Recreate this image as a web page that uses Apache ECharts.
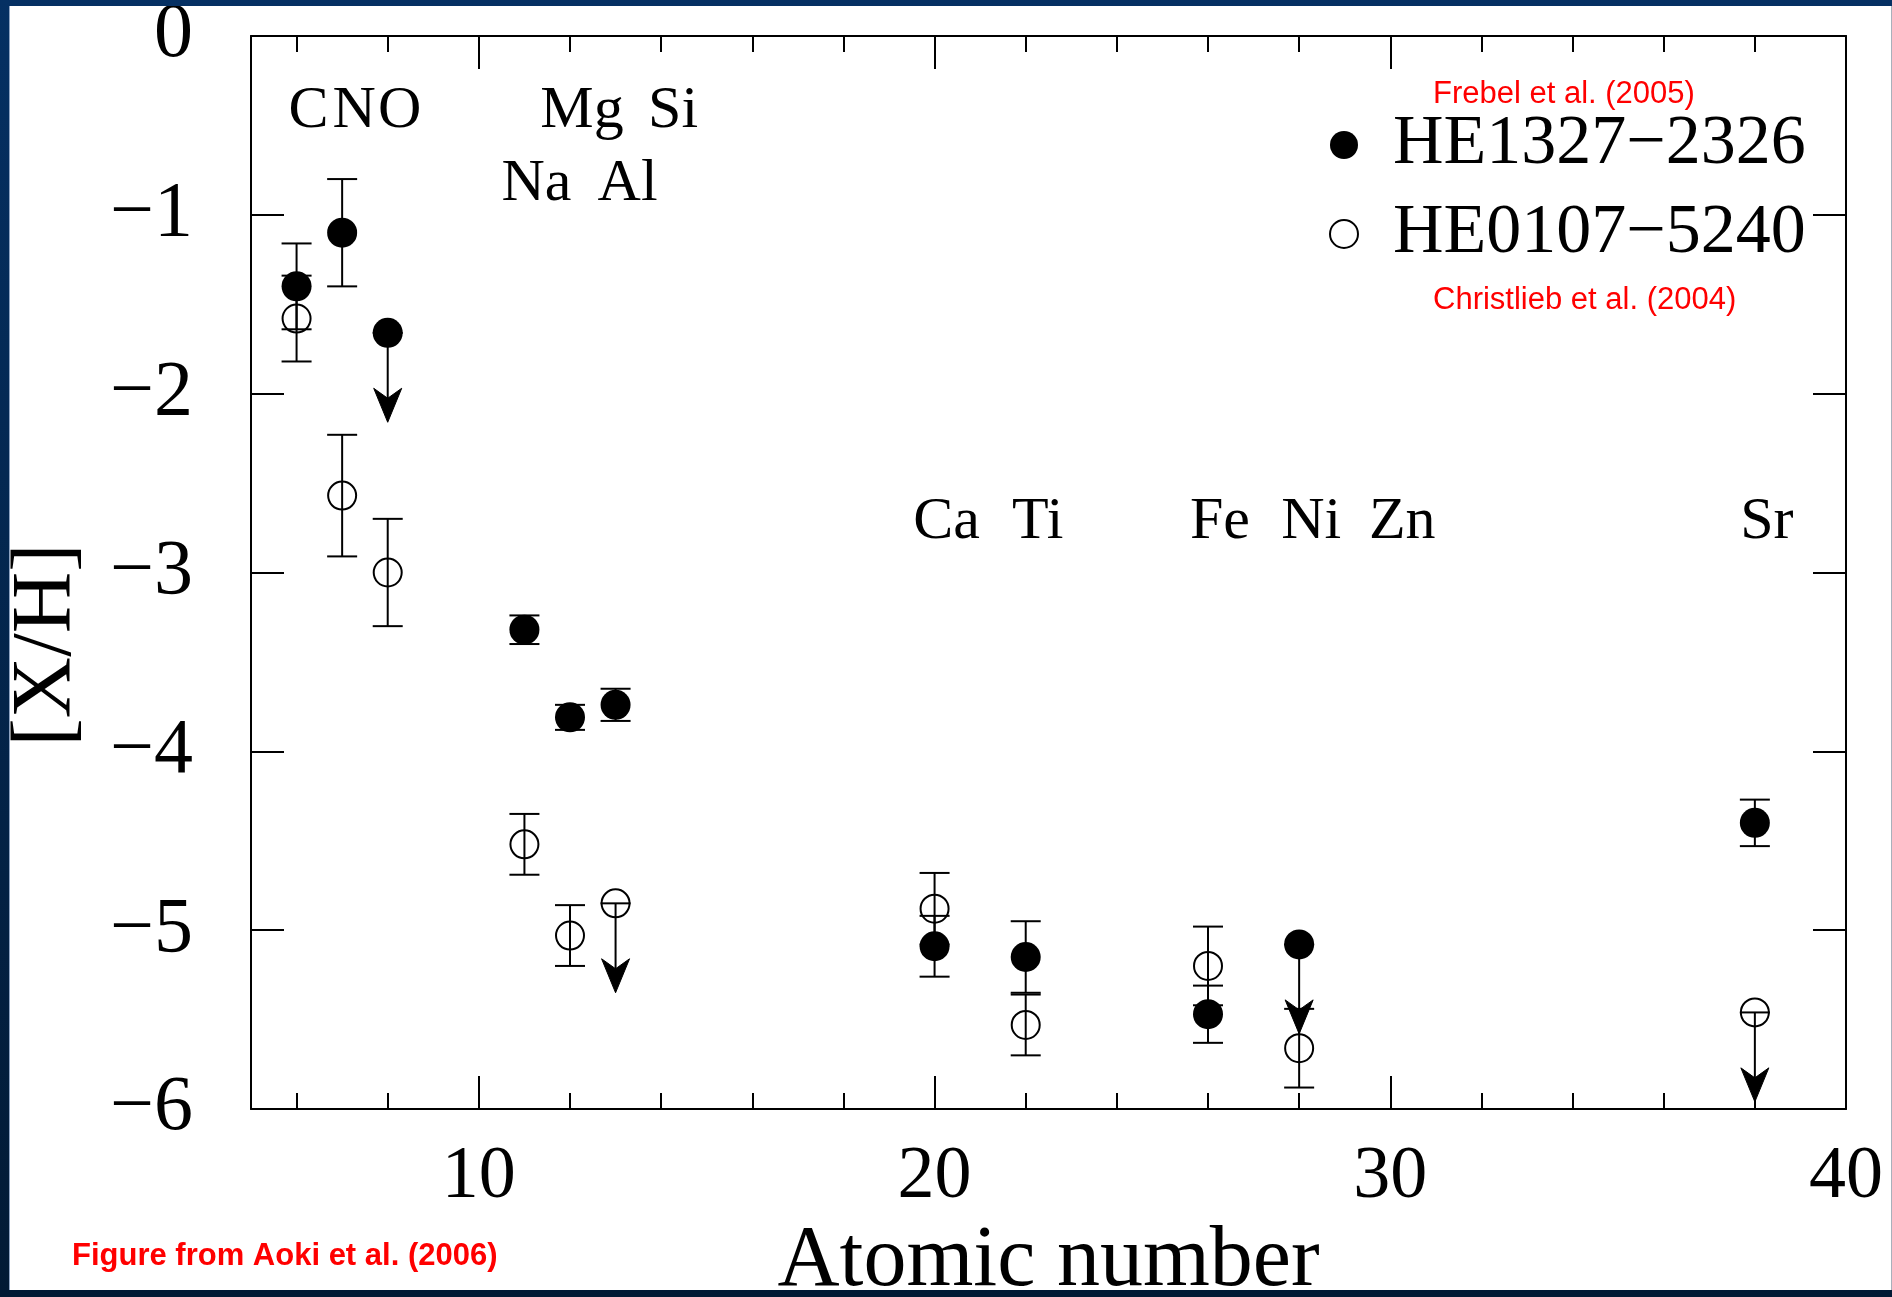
<!DOCTYPE html>
<html>
<head>
<meta charset="utf-8">
<title>[X/H] vs atomic number</title>
<script src="https://cdn.jsdelivr.net/npm/echarts@6/dist/echarts.min.js"></script>
<style>
  html, body { margin: 0; padding: 0; background: #ffffff; }
  #chart { width: 1892px; height: 1297px; }
</style>
</head>
<body>
<div id="chart"></div>
<script>
// Elements measured in both stars
const elements = ['C', 'N', 'O', 'Na', 'Mg', 'Al', 'Ca', 'Ti', 'Fe', 'Ni', 'Sr'];
const atomicNumbers = [6, 7, 8, 11, 12, 13, 20, 22, 26, 28, 38];

// HE1327-2326 (Frebel et al. 2005): [X/H], 1-sigma errors, upper-limit flags
const he1327Values = [-1.40, -1.10, -1.66, -3.32, -3.81, -3.74, -5.09, -5.15, -5.47, -5.08, -4.40];
const he1327Errors = [0.24, 0.30, 0, 0.08, 0.07, 0.09, 0.17, 0.20, 0.16, 0, 0.13];
const he1327Limits = [0, 0, 1, 0, 0, 0, 0, 0, 0, 1, 0];

// HE0107-5240 (Christlieb et al. 2004)
const he0107Values = [-1.58, -2.57, -3.00, -4.52, -5.03, -4.85, -4.88, -5.53, -5.20, -5.66, -5.46];
const he0107Errors = [0.24, 0.34, 0.30, 0.17, 0.17, 0, 0.20, 0.17, 0.22, 0.22, 0];
const he0107Limits = [0, 0, 0, 0, 0, 1, 0, 0, 0, 0, 1];

// Element names written across the top of the plot
const labelNames = ['C', 'N', 'O', 'Mg', 'Si', 'Na', 'Al', 'Ca', 'Ti', 'Fe', 'Ni', 'Zn', 'Sr'];
const labelAtomicNumbers = [6, 7, 8, 12, 14, 11, 13, 20, 22, 26, 28, 30, 38];

// Axis ticks
const xLabelTicks = [10, 20, 30, 40];
const xMajorTicks = [10, 20, 30];
const xMinorTicks = [6, 8, 12, 14, 16, 18, 22, 24, 26, 28, 32, 34, 36, 38];
const yTicks = [0, -1, -2, -3, -4, -5, -6];

const seriesNames = ['HE1327\u22122326', 'HE0107\u22125240'];

// Length of an upper-limit arrow, in dex
const LIMIT_ARROW = 0.5;

const SERIF = '"Liberation Serif", "Times New Roman", serif';
const SANS = '"Liberation Sans", Arial, sans-serif';

// Vertical placement (in [X/H]) of the three rows of element names
function labelRow(name) {
  if (['C', 'N', 'O', 'Mg', 'Si'].includes(name)) return -0.42;
  if (['Na', 'Al'].includes(name)) return -0.83;
  return -2.72;
}

function errorSeries(id, values, errors, limits) {
  return {
    id: id,
    type: 'custom',
    silent: true,
    z: 2,
    xAxisIndex: 0,
    yAxisIndex: 0,
    data: atomicNumbers.map((z, i) => [z, values[i], errors[i], limits[i]]),
    renderItem: function (params, api) {
      const x = api.value(0), y = api.value(1), e = api.value(2), lim = api.value(3);
      const c = api.coord([x, y]);
      const half = 15;
      const style = { stroke: '#000', lineWidth: 2, fill: null };
      const children = [];
      if (lim) {
        const tip = api.coord([x, y - LIMIT_ARROW]);
        children.push({ type: 'line', shape: { x1: c[0] - half, y1: c[1], x2: c[0] + half, y2: c[1] }, style: style });
        children.push({ type: 'line', shape: { x1: c[0], y1: c[1], x2: c[0], y2: tip[1] - 20 }, style: style });
        children.push({
          type: 'polygon',
          shape: { points: [[tip[0], tip[1]], [tip[0] - 14, tip[1] - 34], [tip[0], tip[1] - 24], [tip[0] + 14, tip[1] - 34]] },
          style: { fill: '#000', stroke: '#000', lineWidth: 1 }
        });
      } else {
        const hi = api.coord([x, y + e]);
        const lo = api.coord([x, y - e]);
        children.push({ type: 'line', shape: { x1: c[0], y1: hi[1], x2: c[0], y2: lo[1] }, style: style });
        children.push({ type: 'line', shape: { x1: c[0] - half, y1: hi[1], x2: c[0] + half, y2: hi[1] }, style: style });
        children.push({ type: 'line', shape: { x1: c[0] - half, y1: lo[1], x2: c[0] + half, y2: lo[1] }, style: style });
      }
      return { type: 'group', children: children };
    }
  };
}

const axisLineStyle = { color: '#000', width: 2 };
const plotRect = { left: 251, top: 36, width: 1595, height: 1073, containLabel: false, outerBoundsMode: 'none' };

// x axes sit on the frame edges, never on the y = 0 line
function xAxisBase(gridIndex, position, showLine, extra) {
  return Object.assign({
    type: 'value', min: 5, max: 40, position: position, gridIndex: gridIndex,
    axisLine: { show: showLine, onZero: false, lineStyle: axisLineStyle },
    splitLine: { show: false },
    axisLabel: { show: false }
  }, extra);
}

const frameGradient = {
  type: 'linear', x: 0, y: 0, x2: 0, y2: 1297, global: true,
  colorStops: [{ offset: 0, color: '#053063' }, { offset: 1, color: '#021a35' }]
};

const chart = echarts.init(document.getElementById('chart'), null, { renderer: 'canvas' });

chart.setOption({
  backgroundColor: '#ffffff',
  animation: false,
  // grid 0 carries the data and the long ticks; grid 1 (same rectangle) carries the short ticks
  grid: [Object.assign({}, plotRect), Object.assign({}, plotRect)],
  legend: {
    orient: 'vertical',
    left: 1324,
    top: 105,
    itemWidth: 28,
    itemHeight: 28,
    itemGap: 19,
    selectedMode: false,
    textStyle: { fontFamily: SERIF, fontSize: 70, color: '#000', padding: [0, 0, 0, 30] },
    data: [
      { name: seriesNames[0], icon: 'circle', itemStyle: { color: '#000', borderWidth: 0 } },
      { name: seriesNames[1], icon: 'circle', itemStyle: { color: '#fff', borderColor: '#000', borderWidth: 2 } }
    ]
  },
  xAxis: [
    xAxisBase(0, 'bottom', true, {
      axisTick: { show: true, inside: true, length: 33, customValues: xMajorTicks, lineStyle: axisLineStyle },
      axisLabel: {
        show: true, customValues: xLabelTicks, fontFamily: SERIF, fontSize: 74, color: '#000', margin: 32
      },
      name: 'Atomic number',
      nameLocation: 'middle',
      nameGap: 108,
      nameTextStyle: { fontFamily: SERIF, fontSize: 86, color: '#000' }
    }),
    xAxisBase(0, 'top', true, {
      axisTick: { show: true, inside: true, length: 33, customValues: xMajorTicks, lineStyle: axisLineStyle }
    }),
    xAxisBase(1, 'bottom', false, {
      axisTick: { show: true, inside: true, length: 16, customValues: xMinorTicks, lineStyle: axisLineStyle }
    }),
    xAxisBase(1, 'top', false, {
      axisTick: { show: true, inside: true, length: 16, customValues: xMinorTicks, lineStyle: axisLineStyle }
    })
  ],
  yAxis: [
    {
      type: 'value', gridIndex: 0, min: -6, max: 0, interval: 1, position: 'left',
      axisLine: { show: true, onZero: false, lineStyle: axisLineStyle },
      axisTick: { show: true, inside: true, length: 33, customValues: yTicks, lineStyle: axisLineStyle },
      axisLabel: {
        show: true, customValues: yTicks, fontFamily: SERIF, fontSize: 78, color: '#000', margin: 58,
        formatter: v => (v < 0 ? '\u2212' + Math.abs(v) : String(v))
      },
      splitLine: { show: false }
    },
    {
      type: 'value', gridIndex: 0, min: -6, max: 0, interval: 1, position: 'right',
      axisLine: { show: true, onZero: false, lineStyle: axisLineStyle },
      axisTick: { show: true, inside: true, length: 33, customValues: yTicks, lineStyle: axisLineStyle },
      axisLabel: { show: false },
      splitLine: { show: false }
    },
    {
      type: 'value', gridIndex: 1, min: -6, max: 0, interval: 1, show: false,
      axisLine: { onZero: false }
    }
  ],
  series: [
    {
      id: 'elementNames', type: 'scatter', silent: true, z: 1, symbol: 'rect', symbolSize: 1,
      xAxisIndex: 0, yAxisIndex: 0,
      itemStyle: { color: '#ffffff' },
      label: {
        show: true, position: 'inside', offset: [12, 0], formatter: '{b}',
        fontFamily: SERIF, fontSize: 60, color: '#000000', textBorderWidth: 0, opacity: 1
      },
      data: labelNames.map((n, i) => ({ name: n, value: [labelAtomicNumbers[i], labelRow(n)] }))
    },
    errorSeries('err1327', he1327Values, he1327Errors, he1327Limits),
    errorSeries('err0107', he0107Values, he0107Errors, he0107Limits),
    {
      name: seriesNames[0], type: 'scatter', z: 3, symbol: 'circle', symbolSize: 30,
      xAxisIndex: 0, yAxisIndex: 0,
      itemStyle: { color: '#000', opacity: 1 },
      emphasis: { disabled: true },
      data: atomicNumbers.map((z, i) => ({ name: elements[i], value: [z, he1327Values[i]] }))
    },
    {
      name: seriesNames[1], type: 'scatter', z: 4, symbol: 'circle', symbolSize: 28,
      xAxisIndex: 0, yAxisIndex: 0,
      itemStyle: { color: 'rgba(255,255,255,0)', borderColor: '#000', borderWidth: 2, opacity: 1 },
      emphasis: { disabled: true },
      data: atomicNumbers.map((z, i) => ({ name: elements[i], value: [z, he0107Values[i]] }))
    }
  ],
  graphic: [
    {
      type: 'text', left: 1433, top: 79, z: 50,
      style: { text: 'Frebel et al. (2005)', fill: '#ff0000', font: '31px ' + SANS }
    },
    {
      type: 'text', left: 1433, top: 285, z: 50,
      style: { text: 'Christlieb et al. (2004)', fill: '#ff0000', font: '31px ' + SANS }
    },
    {
      type: 'text', left: 72, top: 1241, z: 50,
      style: { text: 'Figure from Aoki et al. (2006)', fill: '#ff0000', font: 'bold 31px ' + SANS }
    },
    {
      type: 'text', z: 50, x: 48, y: 645, rotation: Math.PI / 2,
      style: { text: '[X/H]', fill: '#000', font: '85px ' + SERIF, align: 'center', verticalAlign: 'middle' }
    },
    // dark blue frame around the white panel
    { type: 'rect', z: 100, silent: true, shape: { x: 0, y: 0, width: 1892, height: 6 }, style: { fill: frameGradient } },
    { type: 'rect', z: 100, silent: true, shape: { x: 0, y: 1290, width: 1892, height: 7 }, style: { fill: frameGradient } },
    { type: 'rect', z: 100, silent: true, shape: { x: 0, y: 0, width: 9, height: 1297 }, style: { fill: frameGradient } },
    { type: 'rect', z: 100, silent: true, shape: { x: 9, y: 6, width: 1, height: 1284 }, style: { fill: '#8ea3c2' } },
    { type: 'rect', z: 100, silent: true, shape: { x: 1891, y: 6, width: 1, height: 1284 }, style: { fill: '#a8b0bb' } }
  ]
});
</script>
</body>
</html>
